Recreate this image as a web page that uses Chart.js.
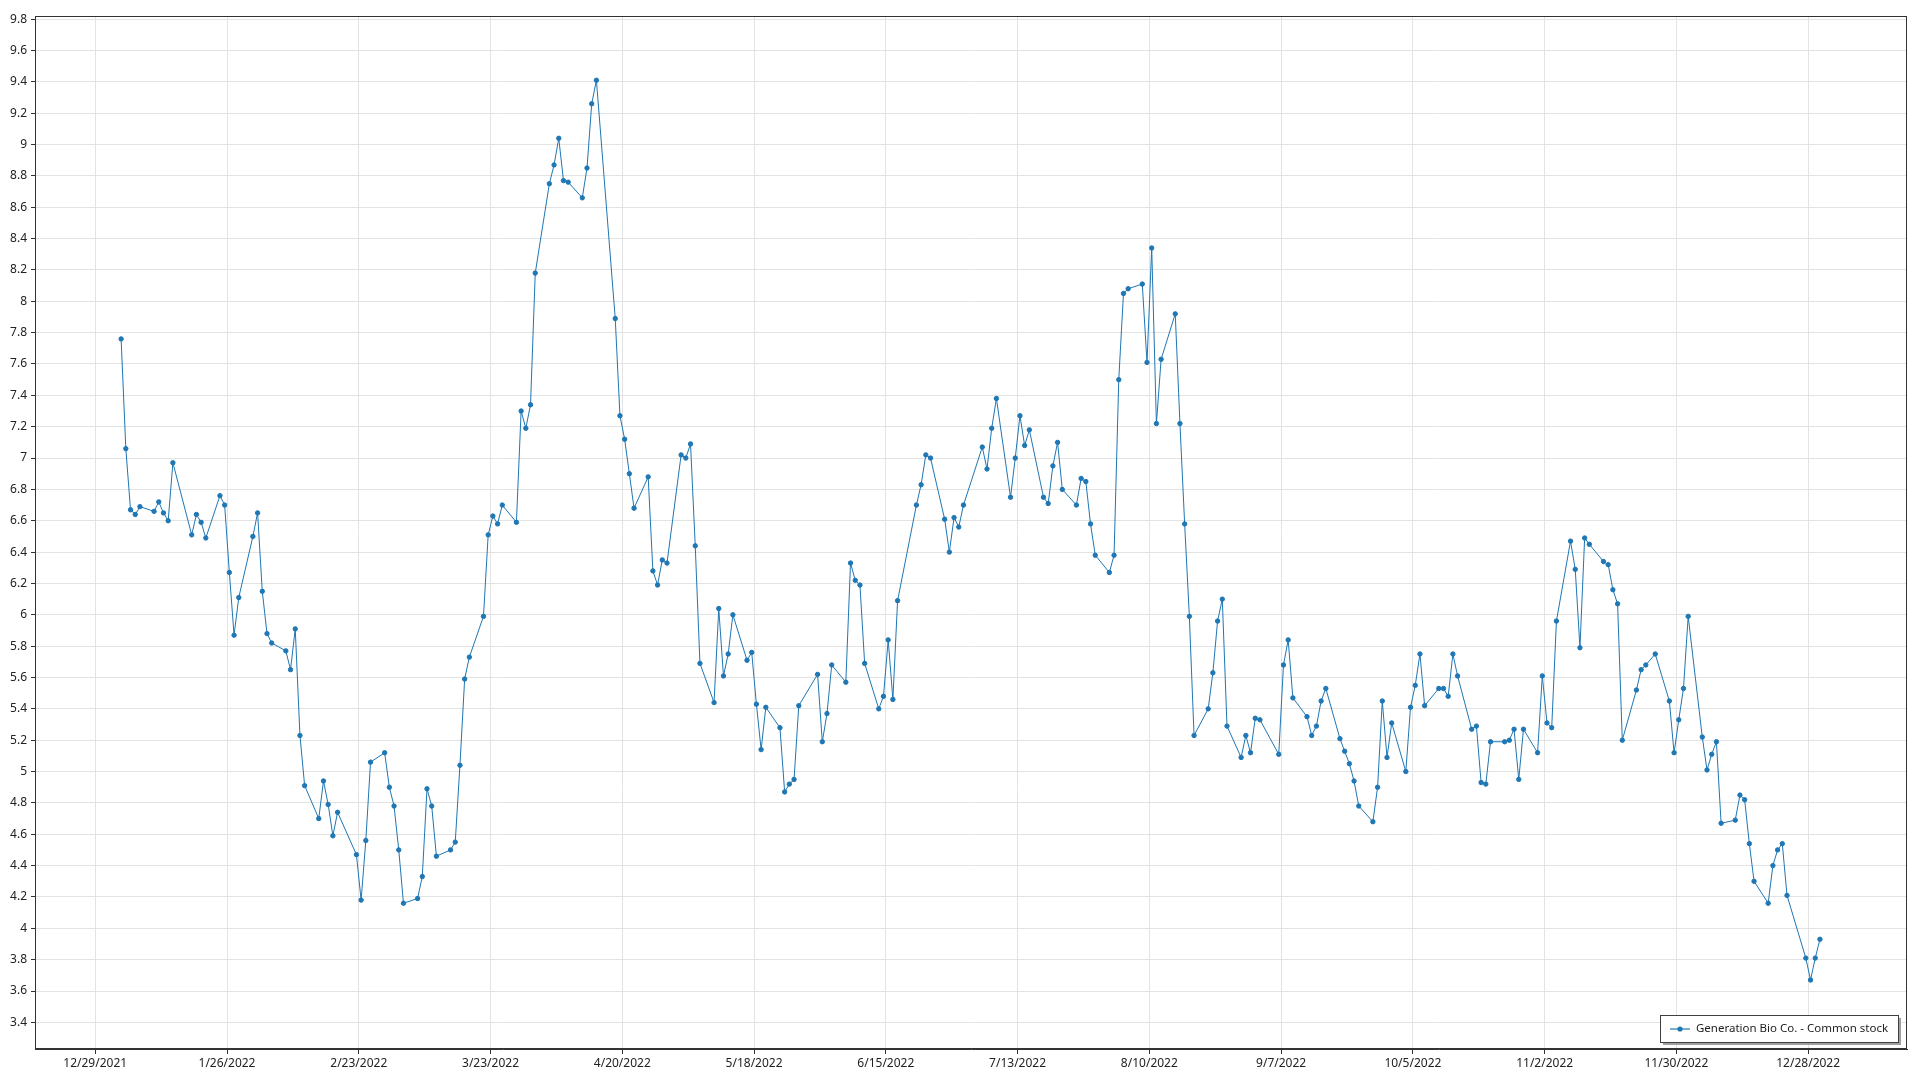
<!DOCTYPE html>
<html>
<head>
<meta charset="utf-8">
<script src="https://cdn.jsdelivr.net/npm/chart.js@4.4.0/dist/chart.umd.min.js"></script>
<style>
  html, body { margin: 0; padding: 0; background: #ffffff; }
  #wrap { width: 1920px; height: 1080px; }
</style>
</head>
<body>
<div id="wrap"><canvas id="stockChart" width="1920" height="1080"></canvas></div>
<script>
// trading days of 2022 (M/D) and the closing price on each
const dates = [
  '1/3','1/4','1/5','1/6','1/7','1/10','1/11','1/12','1/13','1/14','1/18','1/19','1/20','1/21','1/24','1/25','1/26','1/27','1/28','1/31',
  '2/1','2/2','2/3','2/4','2/7','2/8','2/9','2/10','2/11','2/14','2/15','2/16','2/17','2/18','2/22','2/23','2/24','2/25','2/28',
  '3/1','3/2','3/3','3/4','3/7','3/8','3/9','3/10','3/11','3/14','3/15','3/16','3/17','3/18','3/21','3/22','3/23','3/24','3/25','3/28','3/29','3/30','3/31',
  '4/1','4/4','4/5','4/6','4/7','4/8','4/11','4/12','4/13','4/14','4/18','4/19','4/20','4/21','4/22','4/25','4/26','4/27','4/28','4/29',
  '5/2','5/3','5/4','5/5','5/6','5/9','5/10','5/11','5/12','5/13','5/16','5/17','5/18','5/19','5/20','5/23','5/24','5/25','5/26','5/27','5/31',
  '6/1','6/2','6/3','6/6','6/7','6/8','6/9','6/10','6/13','6/14','6/15','6/16','6/17','6/21','6/22','6/23','6/24','6/27','6/28','6/29','6/30',
  '7/1','7/5','7/6','7/7','7/8','7/11','7/12','7/13','7/14','7/15','7/18','7/19','7/20','7/21','7/22','7/25','7/26','7/27','7/28','7/29',
  '8/1','8/2','8/3','8/4','8/5','8/8','8/9','8/10','8/11','8/12','8/15','8/16','8/17','8/18','8/19','8/22','8/23','8/24','8/25','8/26','8/29','8/30','8/31',
  '9/1','9/2','9/6','9/7','9/8','9/9','9/12','9/13','9/14','9/15','9/16','9/19','9/20','9/21','9/22','9/23','9/26','9/27','9/28','9/29','9/30',
  '10/3','10/4','10/5','10/6','10/7','10/10','10/11','10/12','10/13','10/14','10/17','10/18','10/19','10/20','10/21','10/24','10/25','10/26','10/27','10/28','10/31',
  '11/1','11/2','11/3','11/4','11/7','11/8','11/9','11/10','11/11','11/14','11/15','11/16','11/17','11/18','11/21','11/22','11/23','11/25','11/28','11/29','11/30',
  '12/1','12/2','12/5','12/6','12/7','12/8','12/9','12/12','12/13','12/14','12/15','12/16','12/19','12/20','12/21','12/22','12/23','12/27','12/28','12/29','12/30'
];
const prices = [
  7.76,7.06,6.67,6.64,6.69,6.66,6.72,6.65,6.60,6.97,6.51,6.64,6.59,6.49,6.76,6.70,6.27,5.87,6.11,6.50,
  6.65,6.15,5.88,5.82,5.77,5.65,5.91,5.23,4.91,4.70,4.94,4.79,4.59,4.74,4.47,4.18,4.56,5.06,5.12,
  4.90,4.78,4.50,4.16,4.19,4.33,4.89,4.78,4.46,4.50,4.55,5.04,5.59,5.73,5.99,6.51,6.63,6.58,6.70,6.59,7.30,7.19,7.34,
  8.18,8.75,8.87,9.04,8.77,8.76,8.66,8.85,9.26,9.41,7.89,7.27,7.12,6.90,6.68,6.88,6.28,6.19,6.35,6.33,
  7.02,7.00,7.09,6.44,5.69,5.44,6.04,5.61,5.75,6.00,5.71,5.76,5.43,5.14,5.41,5.28,4.87,4.92,4.95,5.42,5.62,
  5.19,5.37,5.68,5.57,6.33,6.22,6.19,5.69,5.40,5.48,5.84,5.46,6.09,6.70,6.83,7.02,7.00,6.61,6.40,6.62,6.56,
  6.70,7.07,6.93,7.19,7.38,6.75,7.00,7.27,7.08,7.18,6.75,6.71,6.95,7.10,6.80,6.70,6.87,6.85,6.58,6.38,
  6.27,6.38,7.50,8.05,8.08,8.11,7.61,8.34,7.22,7.63,7.92,7.22,6.58,5.99,5.23,5.40,5.63,5.96,6.10,5.29,5.09,5.23,5.12,
  5.34,5.33,5.11,5.68,5.84,5.47,5.35,5.23,5.29,5.45,5.53,5.21,5.13,5.05,4.94,4.78,4.68,4.90,5.45,5.09,5.31,
  5.00,5.41,5.55,5.75,5.42,5.53,5.53,5.48,5.75,5.61,5.27,5.29,4.93,4.92,5.19,5.19,5.20,5.27,4.95,5.27,5.12,
  5.61,5.31,5.28,5.96,6.47,6.29,5.79,6.49,6.45,6.34,6.32,6.16,6.07,5.20,5.52,5.65,5.68,5.75,5.45,5.12,5.33,
  5.53,5.99,5.22,5.01,5.11,5.19,4.67,4.69,4.85,4.82,4.54,4.30,4.16,4.40,4.50,4.54,4.21,3.81,3.67,3.81,3.93
];
const seriesName = 'Generation Bio Co. - Common stock';
const xTickLabels = ['12/29/2021','1/26/2022','2/23/2022','3/23/2022','4/20/2022','5/18/2022','6/15/2022',
  '7/13/2022','8/10/2022','9/7/2022','10/5/2022','11/2/2022','11/30/2022','12/28/2022'];
const yTicks = [3.4,3.6,3.8,4,4.2,4.4,4.6,4.8,5,5.2,5.4,5.6,5.8,6,6.2,6.4,6.6,6.8,7,7.2,7.4,7.6,7.8,8,8.2,8.4,8.6,8.8,9,9.2,9.4,9.6,9.8];

// days counted from midnight 12/29/2021
const origin = Date.UTC(2021, 11, 29);
function dayNum(y, m, d, h) {
  return (Date.UTC(y, m - 1, d, h || 0) - origin) / 86400000;
}
function fromLabel(s) {
  var p = s.split('/');
  return dayNum(+p[2], +p[0], +p[1]);
}
// price points stamped at midday
var points = dates.map(function(s, i) {
  var p = s.split('/');
  return { x: dayNum(2022, +p[0], +p[1], 12), y: prices[i] };
});

const FONT = '"Noto Sans", "DejaVu Sans", sans-serif';
const lineColor = '#1f77b4';

// border round the plot + legend box in lower right
const framePlugin = {
  id: 'frame',
  afterDraw: function(chart) {
    var ctx = chart.ctx, a = chart.chartArea;
    ctx.save();
    ctx.strokeStyle = '#333333';
    ctx.lineWidth = 1;
    ctx.strokeRect(Math.round(a.left) + 0.5, Math.round(a.top) + 0.5,
      Math.round(a.right - a.left) - 1, Math.round(a.bottom - a.top) - 1);

    var label = chart.data.datasets[0].label;
    ctx.font = '11.5px ' + FONT;
    var w = Math.round(ctx.measureText(label).width) + 46;
    var h = 27;
    var x = Math.round(a.right) - 9 - w;
    var y = Math.round(a.bottom) - 7 - h;
    ctx.fillStyle = '#a0a0a0';
    ctx.fillRect(x + 3, y + 3, w, h);
    ctx.fillStyle = '#ffffff';
    ctx.fillRect(x, y, w, h);
    ctx.strokeStyle = '#404040';
    ctx.strokeRect(x + 0.5, y + 0.5, w, h);
    var cy = y + h / 2 + 0.5;
    ctx.strokeStyle = 'rgba(31,119,180,0.6)';
    ctx.lineWidth = 2;
    ctx.beginPath();
    ctx.moveTo(x + 10, cy);
    ctx.lineTo(x + 30, cy);
    ctx.stroke();
    ctx.fillStyle = lineColor;
    ctx.beginPath();
    ctx.arc(x + 20, cy, 2.6, 0, Math.PI * 2);
    ctx.fill();
    ctx.fillStyle = '#222222';
    ctx.textBaseline = 'middle';
    ctx.fillText(label, x + 36, cy);
    ctx.restore();
  }
};

const bgPlugin = {
  id: 'bg',
  beforeDraw: function(chart) {
    var ctx = chart.ctx;
    ctx.save();
    ctx.fillStyle = '#ffffff';
    ctx.fillRect(0, 0, chart.width, chart.height);
    ctx.restore();
  }
};

var ctx = document.getElementById('stockChart').getContext('2d');
var stockChart = new Chart(ctx, {
  type: 'line',
  data: {
    datasets: [{
      label: seriesName,
      data: points,
      borderColor: lineColor,
      backgroundColor: lineColor,
      borderWidth: 1,
      pointRadius: 2.2,
      pointBorderWidth: 1,
      pointBackgroundColor: lineColor,
      pointBorderColor: lineColor,
      tension: 0,
      fill: false
    }]
  },
  options: {
    responsive: false,
    devicePixelRatio: 1,
    animation: false,
    layout: { padding: { top: 16, right: 13, left: 0, bottom: 0 } },
    plugins: {
      legend: { display: false },
      tooltip: { enabled: false }
    },
    scales: {
      x: {
        type: 'linear',
        min: -12.8,
        max: 385,
        afterBuildTicks: function(scale) {
          scale.ticks = xTickLabels.map(function(s) { return { value: fromLabel(s) }; });
        },
        afterFit: function(scale) { scale.height = 31; },
        ticks: {
          autoSkip: false,
          maxRotation: 0,
          padding: 2,
          color: '#222222',
          font: { family: FONT, size: 12 },
          callback: function(v, i) { return xTickLabels[i]; }
        },
        grid: { color: '#e3e3e3', lineWidth: 1, tickColor: '#333333', tickLength: 5 },
        border: { color: '#333333', width: 1 }
      },
      y: {
        type: 'linear',
        min: 3.23,
        max: 9.82,
        afterBuildTicks: function(scale) {
          scale.ticks = yTicks.map(function(v) { return { value: v }; });
        },
        afterFit: function(scale) { scale.width = 35; },
        ticks: {
          padding: 4,
          color: '#222222',
          font: { family: FONT, size: 12 },
          callback: function(v) { return String(Math.round(v * 10) / 10); }
        },
        grid: { color: '#e3e3e3', lineWidth: 1, tickColor: '#333333', tickLength: 4 },
        border: { color: '#333333', width: 1 }
      }
    }
  },
  plugins: [bgPlugin, framePlugin]
});
</script>
</body>
</html>
